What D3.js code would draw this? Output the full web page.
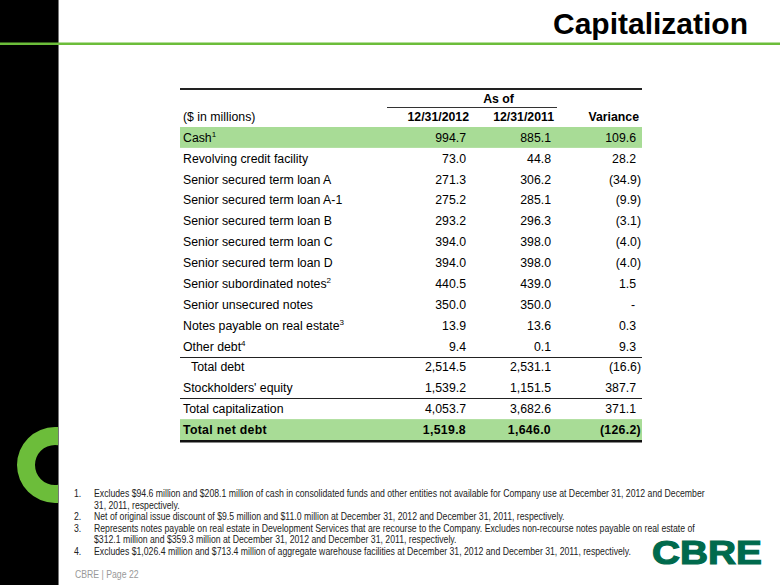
<!DOCTYPE html>
<html>
<head>
<meta charset="utf-8">
<script src="https://cdn.jsdelivr.net/npm/d3@7"></script>
<style>
  html, body { margin: 0; padding: 0; background: #fff; }
  svg { display: block; }
  text { font-family: "Liberation Sans", Arial, Helvetica, sans-serif; }
</style>
</head>
<body>
<svg id="chart" width="780" height="585"></svg>
<script>
// ---- data ----
const title = "Capitalization";
const unitLabel = "($ in millions)";
const groupLabel = "As of";
const columns = ["12/31/2012", "12/31/2011", "Variance"];
const rowLabels = [
  "Cash", "Revolving credit facility", "Senior secured term loan A",
  "Senior secured term loan A-1", "Senior secured term loan B",
  "Senior secured term loan C", "Senior secured term loan D",
  "Senior subordinated notes", "Senior unsecured notes",
  "Notes payable on real estate", "Other debt", "Total debt",
  "Stockholders' equity", "Total capitalization", "Total net debt"
];
const footnoteRefs = ["1", "", "", "", "", "", "", "2", "", "3", "4", "", "", "", ""];
const values2012 = [994.7, 73.0, 271.3, 275.2, 293.2, 394.0, 394.0, 440.5, 350.0, 13.9, 9.4, 2514.5, 1539.2, 4053.7, 1519.8];
const values2011 = [885.1, 44.8, 306.2, 285.1, 296.3, 398.0, 398.0, 439.0, 350.0, 13.6, 0.1, 2531.1, 1151.5, 3682.6, 1646.0];
const variance   = [109.6, 28.2, -34.9, -9.9, -3.1, -4.0, -4.0, 1.5, 0, 0.3, 9.3, -16.6, 387.7, 371.1, -126.2];
const footnotes = [
  ["1.", "Excludes $94.6 million and $208.1 million of cash in consolidated funds and other entities not available for Company use at December 31, 2012 and December",
         "31, 2011, respectively."],
  ["2.", "Net of original issue discount of $9.5 million and $11.0 million at December 31, 2012 and December 31, 2011, respectively."],
  ["3.", "Represents notes payable on real estate in Development Services that are recourse to the Company.  Excludes non-recourse notes payable on real estate of",
         "$312.1 million and $359.3 million at December 31, 2012 and December 31, 2011, respectively."],
  ["4.", "Excludes $1,026.4 million and $713.4 million of aggregate warehouse facilities at December 31, 2012 and December 31, 2011, respectively."]
];
const pageLabel = "CBRE  |  Page 22";
const logoText = "CBRE";

// ---- layout / style ----
const svg = d3.select("#chart");
const GREEN = "#6cbd3a";
const HILITE = "#a8dc96";
const highlightRows = new Set(["Cash", "Total net debt"]);
const boldRows = new Set(["Total net debt"]);
const indentRows = new Set(["Total debt"]);
const ruleAbove = new Set(["Total debt", "Total capitalization"]);

const tableLeft = 180, tableRight = 642;
const y = d3.scaleBand().domain(rowLabels).range([127, 440]).paddingInner(0);
const x = d3.scalePoint().domain(columns).range([466, 636]);
const parenPad = 5;
const fmt = d3.format(",.1f");
const fmtVar = v => v === 0 ? "-" : (v < 0 ? "(" + fmt(-v) + ")" : fmt(v));

// left black band
svg.append("rect").attr("x", 0).attr("y", 0).attr("width", 58).attr("height", 585).attr("fill", "#000");
svg.append("line").attr("x1", 58.5).attr("x2", 58.5).attr("y1", 0).attr("y2", 585).attr("stroke", "#777").attr("stroke-width", 1);

// green "C" ring clipped to the black band
svg.append("clipPath").attr("id", "bandClip").append("rect").attr("x", 0).attr("y", 0).attr("width", 58).attr("height", 585);
const arc = d3.arc().innerRadius(20).outerRadius(38).startAngle(0).endAngle(2 * Math.PI);
svg.append("g").attr("clip-path", "url(#bandClip)")
  .append("path").attr("d", arc()).attr("transform", "translate(55,465)").attr("fill", GREEN);

// green rule
svg.append("rect").attr("x", 0).attr("y", 42.5).attr("width", 780).attr("height", 2.5).attr("fill", GREEN);

// title
svg.append("text").attr("x", 748).attr("y", 34).attr("text-anchor", "end")
  .attr("font-size", 30).attr("font-weight", "bold").attr("fill", "#000").text(title);

// table top rule
svg.append("rect").attr("x", tableLeft).attr("y", 88).attr("width", tableRight - tableLeft).attr("height", 2).attr("fill", "#222");

// header
const hdr = svg.append("g").attr("font-size", 12.3).attr("fill", "#000");
hdr.append("text").attr("x", (x(columns[0]) + x(columns[1])) / 2 - 10).attr("y", 103)
  .attr("text-anchor", "middle").attr("font-weight", "bold").text(groupLabel);
svg.append("line").attr("x1", 387).attr("x2", 557).attr("y1", 107.5).attr("y2", 107.5)
  .attr("stroke", "#333").attr("stroke-width", 1);
hdr.append("text").attr("x", 183).attr("y", 121).text(unitLabel);
hdr.selectAll("text.col").data(columns).join("text").attr("class", "col")
  .attr("x", d => x(d) + 3).attr("y", 121).attr("text-anchor", "end")
  .attr("font-weight", "bold").text(d => d);

// highlight rows
svg.selectAll("rect.hl").data(rowLabels.filter(d => highlightRows.has(d))).join("rect")
  .attr("class", "hl").attr("x", tableLeft).attr("y", d => y(d))
  .attr("width", tableRight - tableLeft).attr("height", y.bandwidth()).attr("fill", HILITE);

// rules above rows
svg.selectAll("line.rule").data(rowLabels.filter(d => ruleAbove.has(d))).join("line")
  .attr("class", "rule").attr("x1", tableLeft).attr("x2", tableRight)
  .attr("y1", d => Math.round(y(d)) + 0.5).attr("y2", d => Math.round(y(d)) + 0.5)
  .attr("stroke", "#222").attr("stroke-width", 1);

// bottom thick rule
svg.append("rect").attr("x", tableLeft).attr("y", y.range()[1]).attr("width", tableRight - tableLeft).attr("height", 2.5).attr("fill", "#111");

// rows
const rows = svg.selectAll("g.row").data(rowLabels.map((d, i) => ({
  label: d, ref: footnoteRefs[i], v12: values2012[i], v11: values2011[i], vv: variance[i]
}))).join("g").attr("class", "row")
  .attr("transform", d => `translate(0,${y(d.label) + y.bandwidth() / 2 + 4.4})`)
  .attr("font-size", 12.3).attr("fill", "#000")
  .attr("font-weight", d => boldRows.has(d.label) ? "bold" : null)
  .attr("letter-spacing", d => boldRows.has(d.label) ? 0.3 : null);

const lbl = rows.append("text").attr("x", d => indentRows.has(d.label) ? 191 : 183);
lbl.append("tspan").text(d => d.label);
lbl.filter(d => d.ref).append("tspan").attr("font-size", 8)
  .attr("dy", -5).text(d => d.ref);

rows.append("text").attr("x", x(columns[0])).attr("text-anchor", "end").text(d => fmt(d.v12));
rows.append("text").attr("x", x(columns[1])).attr("text-anchor", "end").text(d => fmt(d.v11));
rows.append("text").attr("x", d => d.vv < 0 ? x(columns[2]) + parenPad : x(columns[2]) - (d.vv === 0 ? 1 : 0))
  .attr("text-anchor", "end").text(d => fmtVar(d.vv));

// footnotes: regular font at footnote height, horizontally condensed to the reference width
const FN_SIZE = 10.5;
const fnG = svg.append("g").attr("fill", "#222").style("white-space", "pre").attr("font-size", FN_SIZE);
const fnY = [[497.5, 509], [520.5], [532, 543.5], [555.5]];
footnotes.forEach((f, i) => {
  fnG.append("text").attr("class", "fnnum").attr("data-x", 74).attr("y", fnY[i][0]).text(f[0]);
  f.slice(1).forEach((line, j) => {
    fnG.append("text").attr("class", "fnline").attr("data-x", 94).attr("y", fnY[i][j]).text(line);
  });
});
fnG.append("text").attr("data-x", 75).attr("y", 578).attr("fill", "#999").text(pageLabel);
const w = fnG.select("text.fnline").node().getComputedTextLength();
const sx = 612 / w;
fnG.attr("transform", `scale(${sx},1)`);
fnG.selectAll("text").attr("x", function() { return +this.getAttribute("data-x") / sx; });

// logo
svg.append("text").attr("x", 652).attr("y", 564).attr("font-size", 34)
  .attr("font-weight", "bold").attr("fill", "#006a4d")
  .attr("stroke", "#006a4d").attr("stroke-width", 1.2)
  .attr("textLength", 110).attr("lengthAdjust", "spacingAndGlyphs").text(logoText);
</script>
</body>
</html>
